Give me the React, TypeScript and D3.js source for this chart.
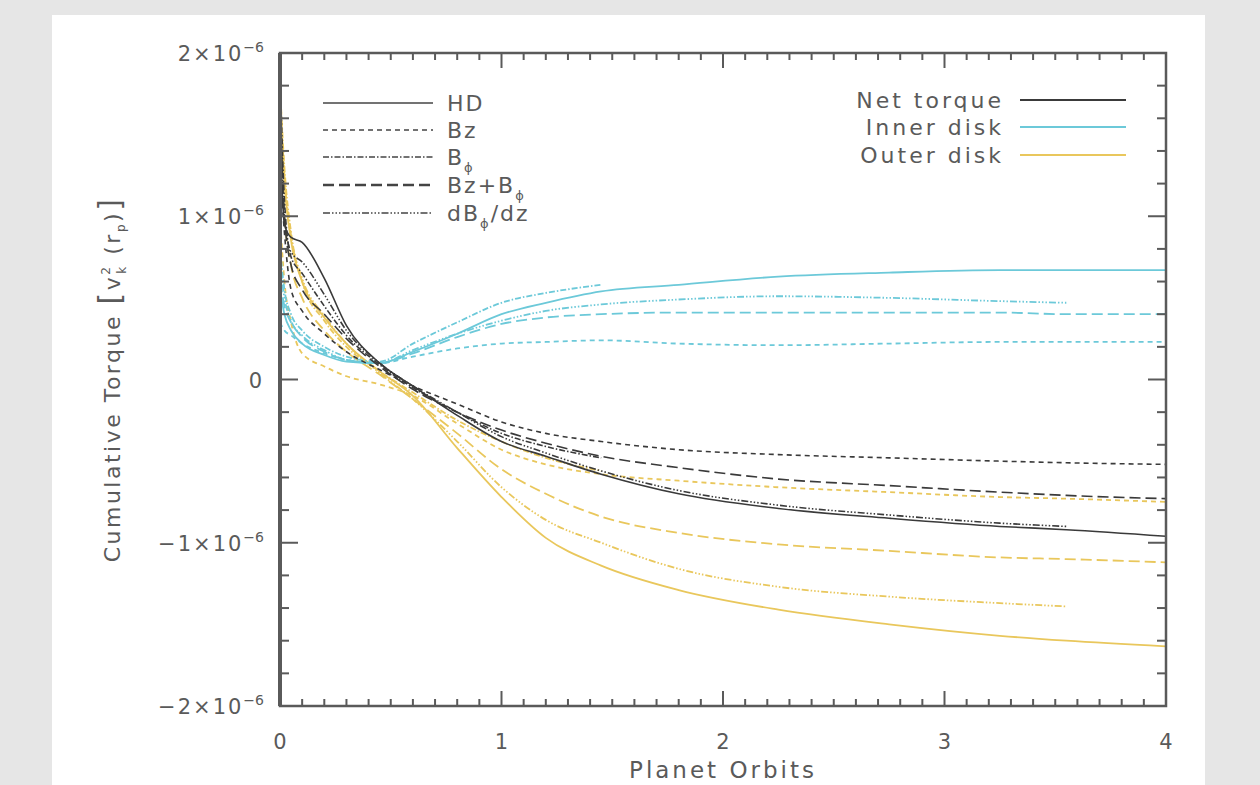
import React, { useEffect, useRef } from "react";
import * as d3 from "d3";

// x positions (planet orbits) shared by all runs; shorter runs just stop early
const orbits = [0, 0.02, 0.05, 0.1, 0.2, 0.3, 0.45, 0.6, 0.8, 1.0, 1.2, 1.45, 1.8, 2.25, 2.75, 3.25, 3.55, 4.0];

// cumulative torque, units of 1e-6
const netHD = [1.5, 0.95, 0.87, 0.84, 0.62, 0.33, 0.1, -0.04, -0.22, -0.38, -0.47, -0.58, -0.7, -0.79, -0.85, -0.9, -0.92, -0.96];
const netBz = [1.3, 0.9, 0.55, 0.42, 0.28, 0.17, 0.06, -0.04, -0.15, -0.26, -0.33, -0.38, -0.43, -0.46, -0.48, -0.5, -0.51, -0.52];
const netBphi = [1.9, 1.1, 0.75, 0.65, 0.45, 0.27, 0.09, -0.05, -0.2, -0.33, -0.41, -0.48];
const netBzBphi = [1.7, 1.0, 0.7, 0.55, 0.4, 0.25, 0.08, -0.06, -0.2, -0.31, -0.39, -0.47, -0.54, -0.61, -0.65, -0.69, -0.71, -0.73];
const netDBdz = [1.8, 1.0, 0.78, 0.72, 0.52, 0.3, 0.1, -0.04, -0.2, -0.35, -0.45, -0.56, -0.68, -0.77, -0.83, -0.88, -0.9];

const innerHD = [0.55, 0.4, 0.3, 0.22, 0.15, 0.11, 0.1, 0.17, 0.28, 0.4, 0.47, 0.54, 0.58, 0.63, 0.655, 0.67, 0.67, 0.67];
const innerBz = [0.35, 0.3, 0.27, 0.22, 0.16, 0.12, 0.1, 0.14, 0.19, 0.22, 0.23, 0.24, 0.22, 0.21, 0.22, 0.23, 0.23, 0.23];
const innerBphi = [0.8, 0.55, 0.4, 0.3, 0.2, 0.14, 0.11, 0.22, 0.35, 0.47, 0.53, 0.58];
const innerBzBphi = [0.6, 0.45, 0.35, 0.26, 0.17, 0.12, 0.1, 0.16, 0.26, 0.34, 0.38, 0.4, 0.41, 0.41, 0.41, 0.41, 0.4, 0.4];
const innerDBdz = [0.7, 0.5, 0.36, 0.27, 0.18, 0.12, 0.1, 0.18, 0.28, 0.36, 0.42, 0.46, 0.49, 0.51, 0.5, 0.48, 0.47];

const outerHD = [1.7, 1.2, 0.85, 0.6, 0.38, 0.22, 0.05, -0.1, -0.42, -0.72, -0.97, -1.14, -1.29, -1.41, -1.5, -1.57, -1.6, -1.635];
const outerBz = [1.0, 0.6, 0.35, 0.16, 0.08, 0.02, -0.03, -0.1, -0.27, -0.43, -0.52, -0.58, -0.62, -0.66, -0.69, -0.72, -0.73, -0.75];
const outerBphi = [1.8, 1.3, 0.9, 0.6, 0.36, 0.2, 0.05, -0.08, -0.25, -0.38, -0.48, -0.56];
const outerBzBphi = [1.5, 1.0, 0.7, 0.5, 0.3, 0.17, 0.03, -0.12, -0.33, -0.55, -0.7, -0.84, -0.94, -1.01, -1.05, -1.09, -1.1, -1.12];
const outerDBdz = [1.75, 1.25, 0.88, 0.62, 0.39, 0.22, 0.04, -0.12, -0.38, -0.66, -0.86, -1.0, -1.16, -1.27, -1.33, -1.37, -1.39];

const runNames = ["HD", "Bz", "Bphi", "BzBphi", "dBdz"];
const regionNames = ["Net torque", "Inner disk", "Outer disk"];
const yTicks = [2, 1, 0, -1, -2];
const xTicks = [0, 1, 2, 3, 4];

const App = () => {
  const ref = useRef<SVGSVGElement>(null);
  const W = 1260, H = 785;
  const margin = { top: 53, right: 94, bottom: 79, left: 280 };

  useEffect(() => {
    const svg = d3.select(ref.current);
    svg.selectAll("*").remove();

    const ink = "#5a5a5a";
    const font = "'DejaVu Sans', sans-serif";
    const colors: Record<string, string> = { "Net torque": "#3a3a3a", "Inner disk": "#6cc9d9", "Outer disk": "#e9c75c" };
    const dashes: Record<string, string> = {
      HD: "none",
      Bz: "5,4",
      Bphi: "6,2,1.5,2",
      BzBphi: "11,5",
      dBdz: "7,2,1.5,2,1.5,2,1.5,2",
    };

    // page + white panel
    svg.append("rect").attr("width", W).attr("height", H).attr("fill", "#e6e6e6");
    svg.append("rect").attr("x", 52).attr("y", 15).attr("width", 1153).attr("height", H - 15).attr("fill", "#fff");

    const x = d3.scaleLinear().domain([0, 4]).range([margin.left, W - margin.right]);
    const y = d3.scaleLinear().domain([-2, 2]).range([H - margin.bottom, margin.top]);

    svg.append("clipPath").attr("id", "plot-clip")
      .append("rect")
      .attr("x", margin.left).attr("y", margin.top)
      .attr("width", W - margin.right - margin.left)
      .attr("height", H - margin.bottom - margin.top);

    const series = [
      { region: "Net torque", runs: [netHD, netBz, netBphi, netBzBphi, netDBdz] },
      { region: "Inner disk", runs: [innerHD, innerBz, innerBphi, innerBzBphi, innerDBdz] },
      { region: "Outer disk", runs: [outerHD, outerBz, outerBphi, outerBzBphi, outerDBdz] },
    ];

    const line = d3.line<number>()
      .x((_, i) => x(orbits[i]))
      .y(d => y(d))
      .curve(d3.curveMonotoneX);

    const lines = svg.append("g").attr("clip-path", "url(#plot-clip)");
    // colored first (outer, inner), net torque on top
    [series[2], series[1], series[0]].forEach(s => {
      s.runs.forEach((vals, j) => {
        lines.append("path")
          .attr("d", line(vals))
          .attr("fill", "none")
          .attr("stroke", colors[s.region])
          .attr("stroke-width", s.region === "Net torque" ? 1.6 : 1.8)
          .attr("stroke-dasharray", dashes[runNames[j]]);
      });
    });

    // frame
    svg.append("rect")
      .attr("x", margin.left).attr("y", margin.top)
      .attr("width", W - margin.right - margin.left)
      .attr("height", H - margin.bottom - margin.top)
      .attr("fill", "none").attr("stroke", ink).attr("stroke-width", 2.5);
    svg.append("line")
      .attr("x1", margin.left).attr("x2", margin.left)
      .attr("y1", margin.top).attr("y2", H - margin.bottom)
      .attr("stroke", ink).attr("stroke-width", 4);

    const ticks = svg.append("g").attr("stroke", ink).attr("stroke-width", 2);
    d3.range(0, 40.5, 1).forEach(k => {
      const v = k / 10;
      const len = k % 10 === 0 ? 15 : 7;
      ticks.append("line").attr("x1", x(v)).attr("x2", x(v))
        .attr("y1", y(-2)).attr("y2", y(-2) - len);
      ticks.append("line").attr("x1", x(v)).attr("x2", x(v))
        .attr("y1", y(2)).attr("y2", y(2) + len);
    });
    d3.range(-10, 10.5, 1).forEach(k => {
      const v = k / 5;
      const len = k % 5 === 0 ? 18 : 9;
      ticks.append("line").attr("y1", y(v)).attr("y2", y(v))
        .attr("x1", x(0)).attr("x2", x(0) + len);
      ticks.append("line").attr("y1", y(v)).attr("y2", y(v))
        .attr("x1", x(4)).attr("x2", x(4) - len);
    });

    // y tick labels
    yTicks.forEach(t => {
      const txt = svg.append("text")
        .attr("x", margin.left - 16).attr("y", y(t) + 8)
        .attr("text-anchor", "end")
        .attr("font-family", font).attr("font-size", 21).attr("fill", ink)
        .attr("letter-spacing", 2);
      if (t === 0) {
        txt.text("0");
      } else {
        txt.append("tspan").text((t < 0 ? "\u2212" : "") + Math.abs(t) + "\u00d710");
        txt.append("tspan").attr("dy", -9).attr("font-size", 14).attr("letter-spacing", 0).text("\u22126");
      }
    });

    // x tick labels
    xTicks.forEach(t => {
      svg.append("text")
        .attr("x", x(t)).attr("y", y(-2) + 43)
        .attr("text-anchor", "middle")
        .attr("font-family", font).attr("font-size", 21).attr("fill", ink)
        .text(t);
    });

    svg.append("text")
      .attr("x", x(2)).attr("y", H - 7)
      .attr("text-anchor", "middle")
      .attr("font-family", font).attr("font-size", 23).attr("fill", ink)
      .attr("letter-spacing", 3)
      .text("Planet Orbits");

    // y axis title
    const yt = svg.append("text")
      .attr("transform", `translate(120,${y(0)}) rotate(-90)`)
      .attr("text-anchor", "middle")
      .attr("font-family", font).attr("font-size", 22).attr("fill", ink)
      .attr("letter-spacing", 2.5);
    yt.append("tspan").text("Cumulative Torque ");
    yt.append("tspan").attr("font-size", 30).text("[");
    yt.append("tspan").text("v");
    yt.append("tspan").attr("font-size", 12).attr("dy", -10).text("2");
    yt.append("tspan").attr("font-size", 12).attr("dx", -9).attr("dy", 16).text("k");
    yt.append("tspan").attr("dy", -6).text(" (r");
    yt.append("tspan").attr("font-size", 12).attr("dy", 5).text("p");
    yt.append("tspan").attr("dy", -5).text(")");
    yt.append("tspan").attr("font-size", 30).text("]");

    // legend: run types
    const leg1 = svg.append("g");
    const rowsY = [103, 130, 157, 185, 213];
    runNames.forEach((r, i) => {
      leg1.append("line")
        .attr("x1", 323).attr("x2", 433)
        .attr("y1", rowsY[i]).attr("y2", rowsY[i])
        .attr("stroke", "#444").attr("stroke-width", r === "BzBphi" ? 2.6 : 1.6)
        .attr("stroke-dasharray", dashes[r]);
      const t = leg1.append("text")
        .attr("x", 447).attr("y", rowsY[i] + 8)
        .attr("font-family", font).attr("font-size", 22).attr("fill", ink)
        .attr("letter-spacing", 2);
      if (r === "HD") t.text("HD");
      else if (r === "Bz") t.text("Bz");
      else if (r === "Bphi") {
        t.append("tspan").text("B");
        t.append("tspan").attr("font-size", 13).attr("dy", 7).text("\u03d5");
      } else if (r === "BzBphi") {
        t.append("tspan").text("Bz+B");
        t.append("tspan").attr("font-size", 13).attr("dy", 7).text("\u03d5");
      } else {
        t.append("tspan").text("dB");
        t.append("tspan").attr("font-size", 13).attr("dy", 7).text("\u03d5");
        t.append("tspan").attr("dy", -7).text("/dz");
      }
    });

    // legend: regions
    const leg2 = svg.append("g");
    const rows2 = [100, 127, 155];
    regionNames.forEach((r, i) => {
      leg2.append("text")
        .attr("x", 1004).attr("y", rows2[i] + 8)
        .attr("text-anchor", "end")
        .attr("font-family", font).attr("font-size", 22).attr("fill", ink)
        .attr("letter-spacing", 3)
        .text(r);
      leg2.append("line")
        .attr("x1", 1020).attr("x2", 1126)
        .attr("y1", rows2[i]).attr("y2", rows2[i])
        .attr("stroke", colors[r]).attr("stroke-width", 2);
    });
  }, []);

  return (
    <svg ref={ref} width={W} height={H} style={{ position: "absolute", left: 0, top: 0 }} />
  );
};

export default App;
